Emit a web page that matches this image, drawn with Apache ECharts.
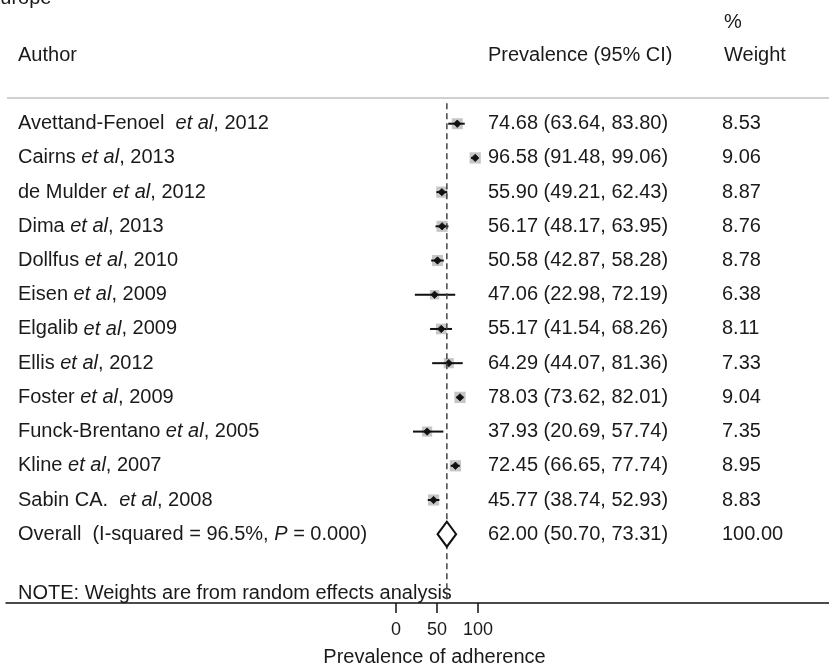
<!DOCTYPE html>
<html><head><meta charset="utf-8">
<script src="https://cdn.jsdelivr.net/npm/echarts@6/dist/echarts.min.js"></script>
<style>html,body{margin:0;padding:0;background:#fff}#c{width:829px;height:672px}</style>
</head><body><div id="c"></div>
<script>
// ---- data ----
const authorNames = ['Avettand-Fenoel ', 'Cairns', 'de Mulder', 'Dima', 'Dollfus', 'Eisen', 'Elgalib', 'Ellis', 'Foster', 'Funck-Brentano', 'Kline', 'Sabin CA. '];
const years = [2012, 2013, 2012, 2013, 2010, 2009, 2009, 2012, 2009, 2005, 2007, 2008];
const estimates = [74.68, 96.58, 55.90, 56.17, 50.58, 47.06, 55.17, 64.29, 78.03, 37.93, 72.45, 45.77];
const lowerCI = [63.64, 91.48, 49.21, 48.17, 42.87, 22.98, 41.54, 44.07, 73.62, 20.69, 66.65, 38.74];
const upperCI = [83.80, 99.06, 62.43, 63.95, 58.28, 72.19, 68.26, 81.36, 82.01, 57.74, 77.74, 52.93];
const weights = [8.53, 9.06, 8.87, 8.76, 8.78, 6.38, 8.11, 7.33, 9.04, 7.35, 8.95, 8.83];
const overallEst = 62.00, overallLo = 50.70, overallHi = 73.31, overallWeight = 100.00;
const iSquared = '96.5%', pValue = '0.000';
const tickValues = [0, 50, 100];
const subgroupTitle = 'Europe';
const noteText = 'NOTE: Weights are from random effects analysis';
const axisTitle = 'Prevalence of adherence';

// ---- chart ----
const F = '"Liberation Sans", Arial, Helvetica, sans-serif';
const FS = 20;
const TXT = '#1a1a1a';
const nRows = authorNames.length;
const COL_EST = 488, COL_W = 722, COL_L = 18;

const rowData = estimates.map((e, i) => [e, i, lowerCI[i], upperCI[i], weights[i]]);
rowData.push([overallEst, nRows, overallLo, overallHi, overallWeight]);

const fmt = v => v.toFixed(2);
const rich = {
  n: {fontSize: FS, fontFamily: F, fill: TXT, color: TXT},
  i: {fontSize: FS, fontFamily: F, fill: TXT, color: TXT, fontStyle: 'italic'}
};
function txt(x, y, s) {
  return {type: 'text', x: x, y: y, silent: true,
    style: {text: s, rich: rich, fontSize: FS, fontFamily: F, fill: TXT,
      align: 'left', verticalAlign: 'middle', textAlign: 'left', textVerticalAlign: 'middle'}};
}

function renderItem(params, api) {
  const k = params.dataIndex;
  const est = api.value(0), row = api.value(1), lo = api.value(2), hi = api.value(3), w = api.value(4);
  const c = api.coord([est, row]);
  const pl = api.coord([lo, row]);
  const ph = api.coord([hi, row]);
  const ch = [];
  const y = c[1];
  if (k < nRows) {
    const s = 3.75 * Math.sqrt(w);
    ch.push({type: 'rect', shape: {x: c[0] - s / 2, y: y - s / 2, width: s, height: s}, style: {fill: '#c6c6c6'}});
    ch.push({type: 'line', shape: {x1: pl[0], y1: y, x2: ph[0], y2: y}, style: {stroke: '#111', lineWidth: 2}});
    const d = 3.7;
    ch.push({type: 'polygon', shape: {points: [[c[0] - d, y], [c[0], y - d], [c[0] + d, y], [c[0], y + d]]}, style: {fill: '#111', stroke: '#111', lineWidth: 0.8, lineJoin: 'round'}});
    ch.push(txt(COL_L, y, '{n|' + authorNames[k] + ' }{i|et al}{n|, ' + years[k] + '}'));
  } else {
    const top = api.coord([est, -0.6]);
    const bot = api.coord([est, 14.011]);
    ch.push({type: 'line', shape: {x1: c[0], y1: top[1], x2: c[0], y2: bot[1]}, style: {stroke: '#444', lineWidth: 1.5, lineDash: [6, 4]}});
    const h = 12.5;
    ch.push({type: 'polygon', shape: {points: [[pl[0], y], [c[0], y - h], [ph[0], y], [c[0], y + h]]}, style: {fill: '#fff', stroke: '#111', lineWidth: 2}});
    ch.push(txt(COL_L, y, '{n|Overall  (I-squared = ' + iSquared + ', }{i|P}{n| = ' + pValue + ')}'));
  }
  ch.push(txt(COL_EST, y, '{n|' + fmt(est) + ' (' + fmt(lo) + ', ' + fmt(hi) + ')}'));
  ch.push(txt(COL_W, y, '{n|' + fmt(w) + '}'));
  return {type: 'group', children: ch};
}

function gtext(x, y, s) {
  return {type: 'text', x: x, y: y, silent: true,
    style: {text: s, fontSize: FS, fontFamily: F, fill: TXT,
      align: 'left', verticalAlign: 'middle', textAlign: 'left', textVerticalAlign: 'middle'}};
}

const chart = echarts.init(document.getElementById('c'), null, {renderer: 'canvas'});
chart.setOption({
  animation: false,
  backgroundColor: '#fff',
  grid: {left: 6, right: 0, top: 62, bottom: 62, containLabel: false},
  xAxis: {
    type: 'value', min: -475.6, max: 528,
    splitLine: {show: false},
    axisLine: {show: true, onZero: false, lineStyle: {color: '#111', width: 1.5}},
    axisTick: {show: true, customValues: tickValues, length: 10, lineStyle: {color: '#111', width: 1.5}},
    axisLabel: {show: true, customValues: tickValues, margin: 18, fontSize: 18, fontFamily: F, color: TXT},
    name: axisTitle, nameLocation: 'middle', nameGap: 44,
    nameTextStyle: {fontSize: FS, fontFamily: F, color: TXT, padding: [0, 0, 0, 34]}
  },
  yAxis: {type: 'value', inverse: true, min: -1.804, max: 14.011, show: false},
  series: [{
    type: 'custom', renderItem: renderItem, data: rowData, clip: false,
    encode: {x: [0, 2, 3], y: 1}
  }],
  graphic: [
    gtext(-13, -2, subgroupTitle),
    gtext(COL_L, 55, 'Author'),
    gtext(COL_EST, 55, 'Prevalence (95% CI)'),
    gtext(COL_W + 2, 22, '%'),
    gtext(COL_W + 2, 55, 'Weight'),
    {type: 'line', silent: true, shape: {x1: 7, y1: 98, x2: 829, y2: 98}, style: {stroke: '#d0d0d0', lineWidth: 2}},
    gtext(COL_L, 593, noteText)
  ]
});
</script>
</body></html>
